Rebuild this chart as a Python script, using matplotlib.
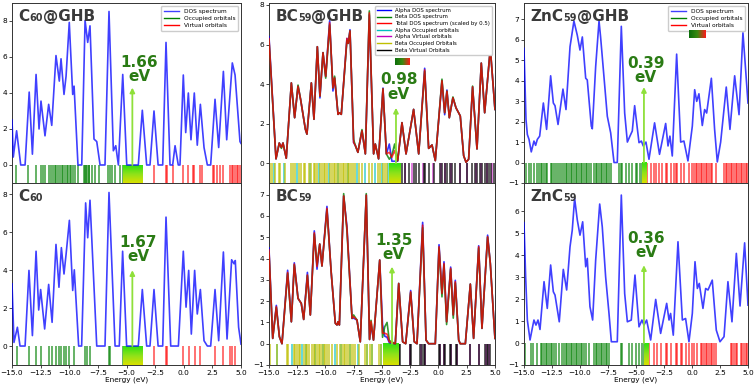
import numpy as np
import matplotlib
matplotlib.use("Agg")
import matplotlib.pyplot as plt
from matplotlib.lines import Line2D
from matplotlib.colors import LinearSegmentedColormap
from matplotlib.offsetbox import TextArea, HPacker, AnchoredOffsetbox

# ---------------- data ----------------
# C60@GHB (top left)
c60ghb_e = [-15.0, -14.89, -14.6, -14.24, -13.86, -13.5, -13.22, -12.9, -12.64, -12.47, -12.12, -11.8,
            -11.53, -11.16, -10.87, -10.72, -10.46, -10.28, -10.0, -9.7, -9.58, -9.24, -8.91, -8.62,
            -8.39, -8.19, -7.84, -7.6, -7.31, -6.88, -6.53, -6.15, -5.94, -5.71, -5.33, -4.98, -3.97,
            -3.62, -3.24, -2.95, -2.6, -2.24, -1.84, -1.55, -1.2, -0.97, -0.76, -0.48, -0.33, -0.04,
            0.17, 0.4, 0.63, 0.92, 1.18, 1.45, 1.77, 2.06, 2.35, 2.73, 3.05, 3.46, 3.75, 4.24, 4.48,
            4.91, 5.0]
c60ghb_dos = [2.5, 0.44, 1.9, 0, 0, 4.05, 0.6, 5.03, 2.0, 3.55, 1.62, 3.37, 2.2, 6.08, 4.66, 5.9, 3.92,
              4.93, 7.92, 3.92, 4.38, 0, 0, 8.03, 6.81, 7.73, 1.44, 1.3, 0, 0, 8.53, 0.79, 1.07, 0,
              5.03, 0, 0, 3.04, 0, 0, 3.0, 0, 0, 6.81, 0, 0, 1.07, 0, 0, 5.0, 1.8, 4.0, 1.4, 4.0,
              1.1, 3.37, 0.97, 0, 0, 3.65, 0.97, 5.2, 1.4, 5.67, 5.0, 1.3, 1.2]
c60ghb_occ = [-14.65, -13.57, -12.93, -12.50, -12.32, -12.12, -11.77, -11.62, -11.39, -11.25, -11.16,
              -10.95, -10.81, -10.66, -10.52, -10.37, -10.23, -10.08, -9.94, -9.85, -9.70, -9.51,
              -9.21, -8.71, -8.62, -8.54, -8.42, -8.29, -8.25, -8.04, -7.75, -7.37, -6.59, -6.44,
              -6.30, -6.00, -5.57, -5.34]
c60ghb_virt = [-3.62, -2.60, -1.58, -1.49, -0.91, -0.10, 0.34, 0.78, 0.92, 1.42, 1.56, 2.52, 2.67,
               2.87, 3.17, 3.46, 4.04, 4.18, 4.33, 4.47, 4.62, 4.77, 4.91]

# C60 (bottom left)
c60_e = [-15.0, -14.83, -14.53, -14.3, -13.86, -13.52, -13.22, -12.9, -12.67, -12.5, -12.15, -11.8,
         -11.5, -11.16, -10.9, -10.69, -10.46, -10.28, -9.99, -9.7, -9.56, -9.18, -8.92, -8.57,
         -8.39, -8.19, -7.6, -6.88, -6.53, -6.0, -5.63, -5.34, -4.99, -3.97, -3.62, -3.24, -2.95,
         -2.6, -2.24, -1.84, -1.55, -1.14, -0.47, -0.04, 0.2, 0.43, 0.66, 0.95, 1.18, 1.45, 1.77,
         2.06, 2.35, 2.73, 3.05, 3.46, 3.78, 4.18, 4.39, 4.5, 4.79, 5.0]
c60_dos = [3.28, 0.19, 0.99, 0, 0, 3.99, 0.55, 5.0, 1.9, 2.98, 0.9, 3.25, 1.25, 5.36, 3.1, 5.19, 3.8,
           4.83, 6.63, 2.93, 4.02, 0, 0, 7.55, 5.71, 7.69, 0, 0, 8.1, 0, 0, 5.0, 0, 0, 2.98, 0, 0,
           2.98, 0, 0, 6.8, 0, 0, 5.0, 2.05, 3.99, 0.63, 3.99, 1.69, 2.98, 0.28, 0, 0, 2.98, 0.28,
           4.96, 0.37, 4.55, 4.34, 4.51, 0.99, 0.1]
c60_occ = [-14.53, -13.52, -12.9, -12.5, -11.8, -11.54, -11.16, -10.9, -10.69, -10.43, -10.28, -9.99,
           -9.56, -8.62, -8.48, -8.19, -6.53, -6.44, -5.34]
c60_virt = [-3.62, -2.6, -1.58, -1.49, -0.04, 0.43, 0.95, 1.45, 2.73, 3.46, 4.04, 4.24, 4.5]

# BC59@GHB (top middle)
bc59ghb_e = [-15.0, -14.38, -14.09, -13.9, -13.76, -13.47, -13.02, -12.73, -12.43, -12.2, -11.78,
             -11.64, -11.25, -11.02, -10.72, -10.49, -10.22, -9.98, -9.63, -9.34, -9.19, -8.89,
             -8.77, -8.6, -8.1, -7.98, -7.83, -7.51, -7.36, -7.13, -6.77, -6.47, -6.12, -5.74,
             -5.59, -5.3, -4.91, -4.61, -4.35, -4.12, -3.88, -3.61, -3.23, -2.87, -2.2, -1.75,
             -1.22, -0.87, -0.57, -0.28, 0.31, 0.55, 0.75, 0.96, 1.28, 1.55, 1.93, 2.23, 2.44,
             2.67, 3.02, 3.41, 3.79, 4.09, 4.59, 5.0]
bc59ghb_total = [6.3, 0.22, 1.02, 0.8, 1.02, 0.25, 4.06, 2.3, 3.89, 3.22, 1.72, 1.47, 4.06, 2.22,
                 5.89, 3.39, 5.59, 4.39, 7.1, 3.81, 4.31, 2.47, 2.55, 2.47, 6.31, 6.06, 6.69, 1.05,
                 0.9, 0.55, 1.64, 0.47, 7.6, 0.47, 0.97, 0.22, 3.76, 0.47, 0.55, 0.3, 0.63, 0.13,
                 2.05, 0.47, 2.72, 0.47, 4.72, 0.75, 0.92, 0.13, 4.17, 2.55, 3.64, 2.3, 3.31, 2.8,
                 2.39, 0.38, 0.05, 0.2, 3.86, 0.72, 5.06, 2.55, 5.81, 2.72]
bc59ghb_alpha = [6.4, 0.22, 1.02, 0.8, 1.02, 0.25, 4.06, 2.3, 3.89, 3.22, 1.72, 1.47, 4.06, 2.22,
                 5.89, 3.3, 5.59, 4.39, 7.2, 3.65, 4.31, 2.47, 2.55, 2.47, 6.31, 6.06, 6.75, 1.05,
                 0.9, 0.55, 1.64, 0.47, 7.5, 0.47, 0.97, 0.22, 3.8, 0.47, 0.97, 0.1, 0.1, 0.1,
                 2.05, 0.47, 2.72, 0.47, 4.8, 0.75, 0.92, 0.13, 4.17, 2.45, 3.7, 2.3, 3.31, 2.8,
                 2.39, 0.38, 0.05, 0.2, 3.86, 0.72, 5.06, 2.55, 5.81, 2.72]
bc59ghb_beta = [6.2, 0.22, 1.02, 0.75, 1.02, 0.25, 4.06, 2.3, 3.95, 3.22, 1.72, 1.47, 4.06, 2.22,
                5.89, 3.39, 5.59, 4.3, 7.0, 3.81, 4.4, 2.47, 2.55, 2.47, 6.2, 6.06, 6.69, 1.2,
                0.9, 0.55, 1.7, 0.47, 7.7, 0.47, 0.97, 0.22, 3.76, 0.47, 0.2, 0.4, 0.97, 0.13,
                2.05, 0.47, 2.72, 0.47, 4.65, 0.75, 0.92, 0.13, 4.25, 2.55, 3.64, 2.3, 3.35, 2.8,
                2.39, 0.38, 0.05, 0.2, 3.9, 0.72, 5.06, 2.55, 5.81, 2.72]
bc59ghb_occ_alpha = [-14.6, -13.7, -12.55, -11.4, -10.6, -9.72, -8.9, -8.0, -7.2, -6.47, -5.59, -5.0,
                     -4.45]
bc59ghb_occ_beta = [-14.88, -14.73, -14.5, -14.14, -14.0, -13.55, -13.05, -12.9, -12.73, -12.37,
                    -12.17, -11.93, -11.78, -11.49, -11.25, -11.05, -10.9, -10.75, -10.46, -10.31,
                    -10.16, -10.01, -9.87, -9.57, -9.42, -9.28, -9.13, -8.98, -8.77, -8.63, -8.48,
                    -8.33, -8.19, -8.04, -7.89, -7.74, -7.59, -7.36, -7.06, -6.77, -6.18, -5.88,
                    -5.35, -5.15, -4.91, -4.7, -4.56]
bc59ghb_virt_alpha = [-3.0, -2.3, -1.4, -0.5, 0.2, 0.6, 1.15, 1.9, 2.5, 3.3, 3.75, 4.3, 4.75]
bc59ghb_virt_beta = [-3.23, -2.93, -2.64, -2.20, -1.96, -1.75, -1.31, -1.16, -0.87, -0.43, 0.16,
                     0.31, 0.55, 0.75, 1.05, 1.20, 1.49, 1.93, 2.52, 2.97, 3.20, 3.41, 3.70, 3.85,
                     4.09, 4.29, 4.50, 4.68, 4.88]

# BC59 (bottom middle)
bc59_e = [-15.0, -14.67, -14.35, -14.08, -13.85, -13.35, -13.02, -12.76, -12.43, -12.14, -11.93,
          -11.6, -11.34, -10.99, -10.75, -10.51, -10.31, -9.87, -9.51, -9.13, -8.98, -8.89, -8.77,
          -8.39, -8.1, -7.65, -7.51, -7.21, -6.92, -6.39, -6.1, -5.97, -5.75, -5.2, -4.95, -4.75,
          -4.55, -4.35, -3.82, -3.52, -3.17, -2.9, -2.46, -2.14, -1.9, -1.4, -1.1, -0.87, -0.28,
          0.05, 0.31, 0.49, 0.72, 1.08, 1.31, 1.49, 1.79, 1.93, 2.38, 2.82, 3.11, 3.56, 3.85, 4.35,
          4.59, 5.0]
bc59_total = [4.4, 0.25, 1.74, 0.33, 0.0, 3.35, 1.03, 3.74, 2.13, 1.89, 1.14, 3.23, 1.35, 5.21, 3.62,
              4.68, 3.65, 6.36, 3.46, 0.96, 0.88, 1.03, 0.88, 6.94, 5.42, 1.19, 1.27, 1.11, 0.09,
              6.98, 0.2, 1.05, 0.17, 3.93, 0.5, 0.49, 0.45, 0.09, 0.0, 2.83, 0.09, 0.0, 2.44, 0.09,
              0.0, 5.57, 0.17, 0.0, 0.0, 4.56, 2.36, 3.77, 1.03, 3.54, 1.35, 2.91, 0.17, 0.0, 0.0,
              2.8, 0.25, 4.56, 0.72, 5.03, 3.77, 0.25]
bc59_alpha = [4.5, 0.25, 1.8, 0.33, 0.0, 3.45, 1.03, 3.8, 2.13, 1.89, 1.14, 3.35, 1.35, 5.3, 3.5,
              4.68, 3.65, 6.45, 3.46, 0.96, 0.88, 1.03, 0.88, 6.94, 5.5, 1.19, 1.2, 1.11, 0.09,
              6.98, 0.2, 0.9, 0.17, 3.93, 0.9, 0.35, 0.3, 0.05, 0.0, 2.83, 0.09, 0.0, 2.5, 0.09,
              0.0, 5.7, 0.17, 0.0, 0.0, 4.65, 2.36, 3.85, 1.03, 3.6, 1.35, 2.98, 0.17, 0.0, 0.0,
              2.8, 0.25, 4.6, 0.72, 5.1, 3.77, 0.25]
bc59_beta = [4.3, 0.25, 1.7, 0.33, 0.0, 3.3, 1.03, 3.7, 2.13, 1.89, 1.14, 3.2, 1.35, 5.15, 3.7,
             4.68, 3.65, 6.3, 3.46, 0.96, 0.88, 1.03, 0.88, 7.05, 5.3, 1.19, 1.35, 1.11, 0.09,
             7.05, 0.2, 1.1, 0.17, 3.93, 0.3, 0.8, 1.0, 0.15, 0.0, 2.83, 0.09, 0.0, 2.4, 0.09,
             0.0, 5.45, 0.17, 0.0, 0.0, 4.5, 2.2, 3.7, 0.9, 3.5, 1.2, 2.85, 0.17, 0.0, 0.0,
             2.8, 0.25, 4.5, 0.72, 5.0, 3.77, 0.25]
bc59_occ_alpha = [-14.3, -13.0, -12.1, -11.7, -10.9, -10.2, -9.2, -8.6, -7.8, -7.1, -6.3, -5.9, -5.1]
bc59_occ_beta = [-14.88, -14.29, -13.41, -13.32, -12.82, -12.67, -12.52, -12.37, -12.23, -11.93,
                 -11.72, -11.64, -11.49, -11.19, -11.05, -10.90, -10.75, -10.60, -10.46, -10.31,
                 -10.16, -10.01, -9.87, -9.72, -9.42, -8.98, -8.69, -8.54, -8.39, -8.24, -8.10,
                 -7.95, -7.74, -7.57, -7.36, -7.06, -6.47, -6.33, -6.03, -5.88, -5.23, -5.12]
bc59_virt_alpha = [-2.55, -1.55, -1.2, 0.15, 0.5, 1.1, 1.6, 2.8, 3.6, 4.2, 4.5]
bc59_virt_beta = [-3.52, -3.44, -2.49, -2.40, -1.61, -1.46, -1.31, -1.16, 0.02, 0.10, 0.46, 0.55,
                  1.05, 1.14, 1.55, 1.64, 2.82, 3.56, 4.15, 4.29, 4.38, 4.59]

# ZnC59@GHB (top right)
zncghb_e = [-15.0, -14.82, -14.7, -14.55, -14.35, -14.11, -13.96, -13.81, -13.6, -13.27, -12.98,
            -12.62, -12.38, -12.23, -11.96, -11.52, -11.25, -10.89, -10.54, -10.24, -10.0, -9.79,
            -9.49, -9.35, -8.99, -8.9, -8.6, -8.3, -8.16, -7.86, -7.56, -7.26, -6.96, -6.67, -6.31,
            -6.01, -5.77, -5.54, -5.33, -5.12, -4.73, -4.52, -4.35, -4.11, -3.84, -3.34, -2.9,
            -2.35, -2.14, -1.97, -1.76, -1.37, -1.01, -0.72, -0.36, 0.03, 0.24, 0.42, 0.62, 0.92,
            1.13, 1.31, 1.73, 2.02, 2.26, 2.56, 3.06, 3.39, 3.81, 4.2, 4.55, 4.79, 5.0]
zncghb_dos = [5.58, 2.1, 1.37, 1.13, 0.52, 1.05, 0.84, 1.13, 1.29, 2.91, 1.62, 4.24, 2.91, 2.78,
              1.86, 3.59, 2.59, 5.66, 6.92, 6.22, 5.5, 6.14, 4.12, 4.04, 1.78, 1.65, 4.69, 6.92,
              6.14, 4.2, 2.26, 1.45, 0.0, 0.0, 6.66, 2.42, 1.0, 1.29, 1.54, 2.78, 0.97, 1.05, 0.81,
              1.0, 0.16, 1.94, 0.4, 1.91, 0.81, 1.29, 0.32, 5.3, 1.0, 1.05, 0.08, 1.78, 3.56, 2.99,
              3.36, 1.81, 2.59, 2.42, 4.12, 1.62, 0.03, 1.0, 3.69, 1.62, 4.24, 2.34, 6.34, 4.53, 2.91]
zncghb_occ = [-14.85, -14.55, -14.41, -14.11, -13.81, -13.66, -13.51, -13.36, -13.21, -13.07, -12.92,
              -12.62, -12.47, -12.32, -12.17, -11.97, -11.79, -11.58, -11.43, -11.28, -11.13,
              -10.98, -10.83, -10.69, -10.54, -10.39, -10.24, -10.09, -9.94, -9.79, -9.64, -9.50,
              -9.35, -9.20, -9.05, -8.75, -8.60, -8.45, -8.30, -8.16, -8.01, -7.86, -7.71, -7.56,
              -7.41, -7.26, -6.52, -6.37, -6.22, -5.92, -5.63, -5.33, -5.03, -4.88, -4.64, -4.47]
zncghb_virt = [-3.99, -3.69, -3.39, -3.24, -2.95, -2.65, -2.35, -2.20, -1.91, -1.61, -1.46, -1.31,
               -1.01, -0.72, -0.27, 0.03, 0.18, 0.33, 0.48, 0.62, 0.77, 0.92, 1.07, 1.22, 1.37,
               1.52, 1.67, 1.81, 2.11, 2.86, 3.00, 3.15, 3.30, 3.45, 3.60, 3.75, 3.90, 4.05, 4.19,
               4.34, 4.49, 4.64, 4.79, 4.94]

# ZnC59 (bottom right)
znc_e = [-15.0, -14.85, -14.7, -14.46, -14.26, -14.11, -13.93, -13.75, -13.57, -13.21, -12.92,
         -12.62, -12.38, -12.23, -11.85, -11.49, -11.19, -10.89, -10.69, -10.48, -10.24, -10.0,
         -9.76, -9.49, -9.35, -9.11, -8.87, -8.6, -8.24, -8.01, -7.71, -7.41, -7.2, -6.67, -6.31,
         -6.01, -5.77, -5.42, -5.09, -4.73, -4.47, -4.29, -4.05, -3.69, -3.24, -2.8, -2.26, -2.05,
         -1.91, -1.67, -1.25, -0.86, -0.57, -0.27, 0.03, 0.27, 0.48, 0.65, 0.98, 1.22, 1.43, 1.81,
         2.17, 2.5, 2.86, 3.21, 3.57, 3.96, 4.29, 4.7, 5.0]
znc_dos = [5.49, 3.0, 1.05, 0.14, 0.67, 1.05, 0.82, 1.05, 0.62, 2.8, 1.58, 3.56, 2.34, 2.19, 0.97,
           3.36, 2.42, 4.39, 5.15, 6.6, 5.61, 4.92, 5.53, 3.48, 3.86, 1.66, 1.05, 3.78, 6.34, 5.3,
           3.02, 1.35, 0.06, 0.06, 6.75, 2.26, 0.97, 1.05, 3.1, 0.74, 1.05, 0.82, 1.05, 0.14, 1.99,
           0.44, 1.81, 1.05, 1.35, 0.36, 4.62, 1.05, 1.12, 0.06, 1.35, 3.71, 2.49, 2.72, 1.58, 2.49,
           2.42, 2.87, 0.59, 0.06, 0.29, 2.8, 0.97, 4.09, 1.69, 4.57, 1.73]
znc_occ = [-14.94, -14.41, -14.17, -13.81, -13.51, -13.36, -13.21, -13.07, -12.92, -12.77, -12.62,
           -12.47, -12.32, -12.17, -11.88, -11.58, -11.43, -11.28, -11.13, -10.98, -10.83, -10.69,
           -10.54, -10.39, -10.24, -10.09, -9.94, -9.79, -9.64, -9.50, -9.20, -8.75, -8.60, -8.45,
           -8.30, -8.16, -8.01, -7.86, -7.71, -7.56, -7.41, -6.37, -6.22, -5.63, -5.33, -5.03,
           -4.73, -4.44, -4.29]
znc_virt = [-3.84, -3.39, -3.10, -2.80, -2.35, -2.20, -1.91, -1.46, -1.31, -1.01, -0.86, -0.57,
            -0.27, 0.03, 0.18, 0.48, 0.77, 0.92, 1.07, 1.22, 1.37, 1.52, 1.67, 1.81, 1.96, 2.11,
            3.45, 3.60, 3.75, 3.90, 4.05, 4.34, 4.49, 4.64, 4.79, 4.94]

# gap annotations: (homo, lumo), arrow x, arrow tip, label x, label y, text
# order: C60@GHB, BC59@GHB, ZnC59@GHB, C60, BC59, ZnC59
gap_edges = [(-5.30, -3.64), (-4.38, -3.40), (-4.44, -4.05), (-5.30, -3.63), (-4.90, -3.55), (-4.26, -3.90)]
arrow_x = [-4.49, -3.76, -4.29, -4.49, -4.11, -4.29]
arrow_top = [4.3, 2.8, 3.69, 4.0, 3.62, 3.55]
label_x = [-3.9, -3.52, -4.14, -3.97, -3.97, -4.08]
label_y = [5.3, 3.85, 4.5, 5.1, 4.52, 4.45]
gap_text = ["1.66\neV", "0.98\neV", "0.39\neV", "1.67\neV", "1.35\neV", "0.36\neV"]

titles = [("C", "60", "@GHB"), ("BC", "59", "@GHB"), ("ZnC", "59", "@GHB"),
          ("C", "60", ""), ("BC", "59", ""), ("ZnC", "59", "")]

# ---------------- figure ----------------
fig = plt.figure(figsize=(7.56, 3.88), dpi=100)
cols = [(0.0159, 0.3029), (0.3558, 0.2989), (0.6931, 0.2963)]
rows = [(0.5284, 0.4639), (0.0593, 0.4691)]
ylims = [9.0, 8.1, 7.8, 8.6, 7.55, 7.3]
yticks = [[0, 2, 4, 6, 8], [0, 2, 4, 6, 8], range(-1, 8),
          [0, 2, 4, 6, 8], range(-1, 8), range(-1, 7)]

gap_cmap = LinearSegmentedColormap.from_list("gap", ["#d9e000", "#8ee21a", "#2fe010"])
bar_cmap = LinearSegmentedColormap.from_list("bar", ["#0b6e0b", "#3a8a10", "#ff1a1a"])
grad = np.linspace(0, 1, 64).reshape(-1, 1)

axes = []
for r in range(2):
    for c in range(3):
        ax = fig.add_axes([cols[c][0], rows[r][0], cols[c][1], rows[r][1]])
        axes.append(ax)

def sticks(ax, energies, color, alpha):
    ax.vlines(energies, -1, 0, colors=color, lw=1.2, alpha=alpha, zorder=1)

# simple (closed-shell) panels
for idx, e, d, occ, virt in [(0, c60ghb_e, c60ghb_dos, c60ghb_occ, c60ghb_virt),
                             (3, c60_e, c60_dos, c60_occ, c60_virt),
                             (2, zncghb_e, zncghb_dos, zncghb_occ, zncghb_virt),
                             (5, znc_e, znc_dos, znc_occ, znc_virt)]:
    ax = axes[idx]
    ax.plot(e, d, color="blue", lw=1.2, alpha=0.75, zorder=3)
    sticks(ax, occ, "green", 0.7)
    sticks(ax, virt, "red", 0.65)

# open-shell panels
for idx, e, a, b, t, oa, ob, va, vb in [
        (1, bc59ghb_e, bc59ghb_alpha, bc59ghb_beta, bc59ghb_total, bc59ghb_occ_alpha,
         bc59ghb_occ_beta, bc59ghb_virt_alpha, bc59ghb_virt_beta),
        (4, bc59_e, bc59_alpha, bc59_beta, bc59_total, bc59_occ_alpha,
         bc59_occ_beta, bc59_virt_alpha, bc59_virt_beta)]:
    ax = axes[idx]
    ax.plot(e, a, color="blue", lw=1.2, alpha=0.8, zorder=3)
    ax.plot(e, b, color="green", lw=1.2, alpha=0.8, zorder=3)
    ax.plot(e, t, color="red", lw=1.2, alpha=0.75, zorder=4)
    sticks(ax, oa, "c", 0.7)
    sticks(ax, va, "m", 0.6)
    sticks(ax, ob, "y", 0.75)
    sticks(ax, vb, "k", 0.75)

for i, ax in enumerate(axes):
    lo, hi = gap_edges[i]
    ax.imshow(grad, extent=(lo, hi, -1, 0), origin="lower", aspect="auto",
              cmap=gap_cmap, zorder=2, interpolation="bilinear")
    ax.annotate("", xy=(arrow_x[i], arrow_top[i]), xytext=(arrow_x[i], 0),
                arrowprops=dict(arrowstyle="-|>", color="#8fe03a", lw=1.3,
                                mutation_scale=7, shrinkA=0, shrinkB=0), zorder=5)
    ax.text(label_x[i], label_y[i], gap_text[i], ha="center", va="center",
            fontsize=11, fontweight="bold", color="#2a7b14", linespacing=0.95, zorder=6)

    big, sub, rest = titles[i]
    parts = [TextArea(big, textprops=dict(fontsize=11, fontweight="bold", color="#3a3a3a")),
             TextArea(sub, textprops=dict(fontsize=7, fontweight="bold", color="#3a3a3a"))]
    if rest:
        parts.append(TextArea(rest, textprops=dict(fontsize=11, fontweight="bold", color="#3a3a3a")))
    box = HPacker(children=parts, align="baseline", pad=0, sep=0)
    ax.add_artist(AnchoredOffsetbox(loc="upper left", child=box, pad=0, borderpad=0.45,
                                    frameon=False))

    ax.set_xlim(-15, 5)
    ax.set_ylim(-1, ylims[i])
    ax.set_xticks([-15, -12.5, -10, -7.5, -5, -2.5, 0, 2.5, 5])
    ax.set_yticks(list(yticks[i]))
    ax.tick_params(labelsize=5.3, length=2.5, width=0.5, pad=1)
    for s in ax.spines.values():
        s.set_linewidth(0.7)
        s.set_color("#333333")
    if i < 3:
        ax.tick_params(labelbottom=False)
    else:
        ax.set_xlabel("Energy (eV)", fontsize=5.3, labelpad=0.5)

# legends
simple_handles = [Line2D([], [], color="blue", lw=1, alpha=0.75),
                  Line2D([], [], color="green", lw=1),
                  Line2D([], [], color="red", lw=1)]
simple_labels = ["DOS spectrum", "Occupied orbitals", "Virtual orbitals"]
for idx in (0, 2):
    axes[idx].legend(simple_handles, simple_labels, loc="upper right", fontsize=4.2,
                     handlelength=2.6, labelspacing=0.35, borderpad=0.5, framealpha=1,
                     edgecolor="#cccccc", fancybox=True)

open_handles = [Line2D([], [], color=c, lw=1) for c in ["blue", "green", "red", "c", "m", "y", "k"]]
open_labels = ["Alpha DOS spectrum", "Beta DOS spectrum", "Total DOS spectrum (scaled by 0.5)",
               "Alpha Occupied orbitals", "Alpha Virtual orbitals", "Beta Occupied Orbitals",
               "Beta Virtual Orbitals"]
axes[1].legend(open_handles, open_labels, loc="upper right", fontsize=3.9, handlelength=2.6,
               labelspacing=0.3, borderpad=0.4, framealpha=1, edgecolor="#cccccc")

# small green-to-red gradient patches
hgrad = np.linspace(0, 1, 64).reshape(1, -1)
for rect in ([0.5225, 0.8325, 0.0198, 0.018], [0.9114, 0.902, 0.0212, 0.0206]):
    pax = fig.add_axes(rect)
    pax.imshow(hgrad, aspect="auto", cmap=bar_cmap, interpolation="bilinear")
    pax.set_axis_off()

fig.savefig("out.png", dpi=100)
